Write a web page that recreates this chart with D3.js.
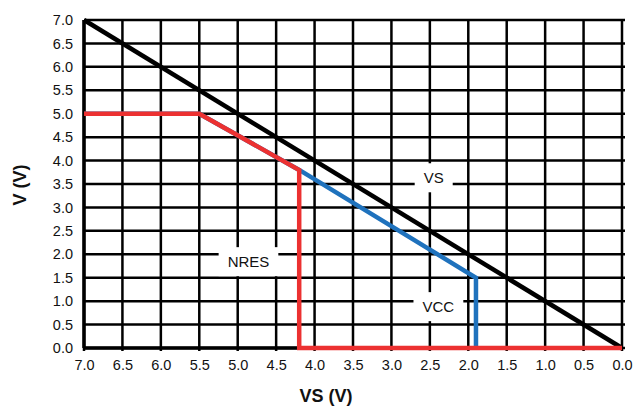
<!DOCTYPE html>
<html>
<head>
<meta charset="utf-8">
<script src="https://cdn.jsdelivr.net/npm/d3@7"></script>
<style>
  body { margin: 0; background: #fff; }
  text { font-family: "Liberation Sans", Arial, sans-serif; }
</style>
</head>
<body>
<svg id="chart" width="634" height="408"></svg>
<script>
// tick values for both axes
const xTicks = [7.0, 6.5, 6.0, 5.5, 5.0, 4.5, 4.0, 3.5, 3.0, 2.5, 2.0, 1.5, 1.0, 0.5, 0.0];
const yTicks = [0.0, 0.5, 1.0, 1.5, 2.0, 2.5, 3.0, 3.5, 4.0, 4.5, 5.0, 5.5, 6.0, 6.5, 7.0];

// curves
const vsX = [7.0, 0.0];
const vsY = [7.0, 0.0];
const vccX = [7.0, 5.5, 4.2, 1.9, 1.9];
const vccY = [5.0, 5.0, 3.8, 1.5, 0.0];
const nresX = [7.0, 5.5, 4.2, 4.2, 0.0];
const nresY = [5.0, 5.0, 3.8, 0.0, 0.0];

// label positions in data units
const labels = [
  { text: "VS", x: 2.45, y: 3.6 },
  { text: "NRES", x: 4.86, y: 1.81 },
  { text: "VCC", x: 2.39, y: 0.85 }
];

const margin = { top: 20, right: 12, bottom: 60, left: 84 };
const width = 634 - margin.left - margin.right;
const height = 408 - margin.top - margin.bottom;

const svg = d3.select("#chart");
const g = svg.append("g").attr("transform", `translate(${margin.left},${margin.top})`);

const x = d3.scaleLinear().domain([7, 0]).range([0, width]);
const y = d3.scaleLinear().domain([0, 7]).range([height, 0]);

// grid lines
g.append("g")
  .selectAll("line")
  .data(xTicks)
  .join("line")
  .attr("x1", d => x(d)).attr("x2", d => x(d))
  .attr("y1", 0).attr("y2", height + 3)
  .attr("stroke", "#000").attr("stroke-width", 2.5);

g.append("g")
  .selectAll("line")
  .data(yTicks)
  .join("line")
  .attr("x1", 0).attr("x2", width + 3)
  .attr("y1", d => y(d)).attr("y2", d => y(d))
  .attr("stroke", "#000").attr("stroke-width", 2.5);

// axes (labels only)
const xAxis = g.append("g")
  .attr("transform", `translate(0,${height})`)
  .call(d3.axisBottom(x).tickValues(xTicks).tickFormat(d3.format(".1f")).tickSize(0).tickPadding(12));
xAxis.select(".domain").remove();
xAxis.selectAll("text").attr("font-size", 14.5).attr("fill", "#111");

const yAxis = g.append("g")
  .call(d3.axisLeft(y).tickValues(yTicks).tickFormat(d3.format(".1f")).tickSize(0).tickPadding(11));
yAxis.select(".domain").remove();
yAxis.selectAll("text").attr("font-size", 14.5).attr("fill", "#111");

// thick left and bottom borders
g.append("line").attr("x1", 0).attr("x2", 0).attr("y1", 0).attr("y2", height)
  .attr("stroke", "#000").attr("stroke-width", 3.5);
g.append("line").attr("x1", 0).attr("x2", width).attr("y1", height).attr("y2", height)
  .attr("stroke", "#000").attr("stroke-width", 3.5);

// label boxes (white behind text, hiding grid)
labels.forEach(l => {
  const t = g.append("text")
    .attr("x", x(l.x)).attr("y", y(l.y))
    .attr("text-anchor", "middle").attr("dominant-baseline", "middle")
    .attr("font-size", 15).attr("fill", "#111")
    .text(l.text);
  const bb = t.node().getBBox();
  g.insert("rect", () => t.node())
    .attr("x", bb.x - 9).attr("y", bb.y - 6)
    .attr("width", bb.width + 18).attr("height", bb.height + 12)
    .attr("fill", "#fff");
});

const line = d3.line().x(d => x(d[0])).y(d => y(d[1]));

g.append("path")
  .datum(d3.zip(vsX, vsY))
  .attr("d", line).attr("fill", "none")
  .attr("stroke", "#000").attr("stroke-width", 4.5);

g.append("path")
  .datum(d3.zip(vccX, vccY))
  .attr("d", line).attr("fill", "none")
  .attr("stroke", "#1f72bd").attr("stroke-width", 4.5);

g.append("path")
  .datum(d3.zip(nresX, nresY))
  .attr("d", line).attr("fill", "none")
  .attr("stroke", "#ec3131").attr("stroke-width", 4.5);

// axis titles
svg.append("text")
  .attr("transform", "translate(21,185) rotate(-90)")
  .attr("text-anchor", "middle").attr("dominant-baseline", "middle")
  .attr("font-size", 18).attr("font-weight", "bold").attr("fill", "#111")
  .text("V (V)");

svg.append("text")
  .attr("x", 326).attr("y", 397)
  .attr("text-anchor", "middle").attr("dominant-baseline", "middle")
  .attr("font-size", 18).attr("font-weight", "bold").attr("fill", "#111")
  .text("VS (V)");
</script>
</body>
</html>
